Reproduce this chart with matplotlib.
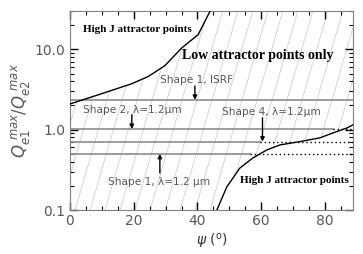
import numpy as np
import matplotlib
matplotlib.use("Agg")
import matplotlib.pyplot as plt
from matplotlib.patches import Polygon
from matplotlib.ticker import FixedLocator, MultipleLocator, LogLocator, NullFormatter

# ---- data ----
upper_psi = [0.0, 8.8, 19.3, 24.5, 29.7, 35.0, 40.2, 43.9]
upper_q = [2.09, 2.71, 3.72, 4.58, 6.23, 10.35, 15.2, 29.6]

lower_psi = [46.1, 49.2, 53.3, 57.4, 61.8, 65.9, 72.1, 78.4, 82.5, 86.9, 88.8]
lower_q = [0.1, 0.194, 0.333, 0.445, 0.56, 0.646, 0.71, 0.79, 0.91, 1.05, 1.15]

line_names = ["Shape 1, ISRF", "Shape 2, λ=1.2μm", "Shape 4, λ=1.2μm", "Shape 1, λ=1.2 μm"]
line_q = [2.35, 1.02, 0.71, 0.50]
line_solid_end = [88.8, 82.5, 59.5, 56.4]

arrow_psi = [39.2, 19.4, 60.4, 28.2]
arrow_from = [3.5, 1.53, 1.40, 0.289]

label_psi = [28.2, 4.0, 47.6, 11.9]
label_q = [4.17, 1.76, 1.68, 0.223]

region_text = ["High J attractor points", "Low attractor points only", "High J attractor points"]
region_psi = [4.0, 35.1, 53.2]
region_q = [17.5, 8.3, 0.23]
region_size = [8.0, 10.0, 8.0]

xmin, xmax = 0, 88.8
ymin, ymax = 0.1, 30

# ---- figure ----
fig = plt.figure(figsize=(3.63, 2.54), dpi=100)
ax = fig.add_axes([70/363, 44/254, 283/363, 199/254])
ax.set_yscale("log")
ax.set_xlim(xmin, xmax)
ax.set_ylim(ymin, ymax)

# hatched region between curves
verts = [(xmin, ymin)] + list(zip(lower_psi, lower_q)) + [(xmax, lower_q[-1]), (xmax, ymax)] \
        + list(zip(upper_psi[::-1], upper_q[::-1]))
clip = Polygon(verts, closed=True, transform=ax.transData, fill=False, lw=0)
for x0 in np.arange(-0.3, 1.1, 0.053):
    ln, = ax.plot([x0, x0 + 0.204], [0, 1], transform=ax.transAxes, color="0.78", lw=0.5, zorder=1)
    ln.set_clip_path(clip)

# horizontal lines
for q, e in zip(line_q, line_solid_end):
    ax.plot([xmin, e], [q, q], color="0.55", lw=1.2, zorder=2)
    if e < xmax:
        ax.plot([e, xmax], [q, q], color="k", lw=1.0, ls=(0, (1, 2)), zorder=2)

# curves
ax.plot(upper_psi, upper_q, color="k", lw=1.0, zorder=3)
ax.plot(lower_psi, lower_q, color="k", lw=1.0, zorder=3)

# labels and arrows
for name, lx, ly, ax_, af, aq in zip(line_names, label_psi, label_q, arrow_psi, arrow_from, line_q):
    ax.text(lx, ly, name, fontsize=7.6, color="0.35", ha="left", va="center", zorder=4)
    ax.annotate("", xy=(ax_, aq), xytext=(ax_, af),
                arrowprops=dict(arrowstyle="-|>", color="k", lw=1.0, mutation_scale=6,
                                shrinkA=0, shrinkB=0), zorder=4)

for t, x, y, s in zip(region_text, region_psi, region_q, region_size):
    ax.text(x, y, t, fontsize=s, family="Liberation Serif", weight="bold", color="k",
            ha="left", va="center", zorder=4)

# axes styling
for sp in ax.spines.values():
    sp.set_color("0.5")
    sp.set_linewidth(0.8)
ax.xaxis.set_major_locator(FixedLocator([0, 20, 40, 60, 80]))
ax.xaxis.set_minor_locator(MultipleLocator(5))
ax.yaxis.set_major_locator(FixedLocator([0.1, 1, 10]))
ax.yaxis.set_minor_locator(LogLocator(base=10, subs=np.arange(2, 10)))
ax.yaxis.set_minor_formatter(NullFormatter())
ax.set_yticklabels(["0.1", "1.0", "10.0"])
ax.tick_params(which="both", direction="in", top=True, right=True, colors="k",
               labelcolor="0.35", labelsize=10)
ax.tick_params(which="major", length=6, width=1.0)
ax.tick_params(which="minor", length=3, width=0.8)
ax.tick_params(axis="x", pad=3)

ax.set_xlabel(r"$\psi$ $(^{\rm o})$", fontsize=10, color="0.2", labelpad=3)
ax.set_ylabel(r"$Q_{e1}^{\ max}/Q_{e2}^{\ max}$", fontsize=12, color="0.35", labelpad=2)

fig.savefig("out.png", dpi=100)
